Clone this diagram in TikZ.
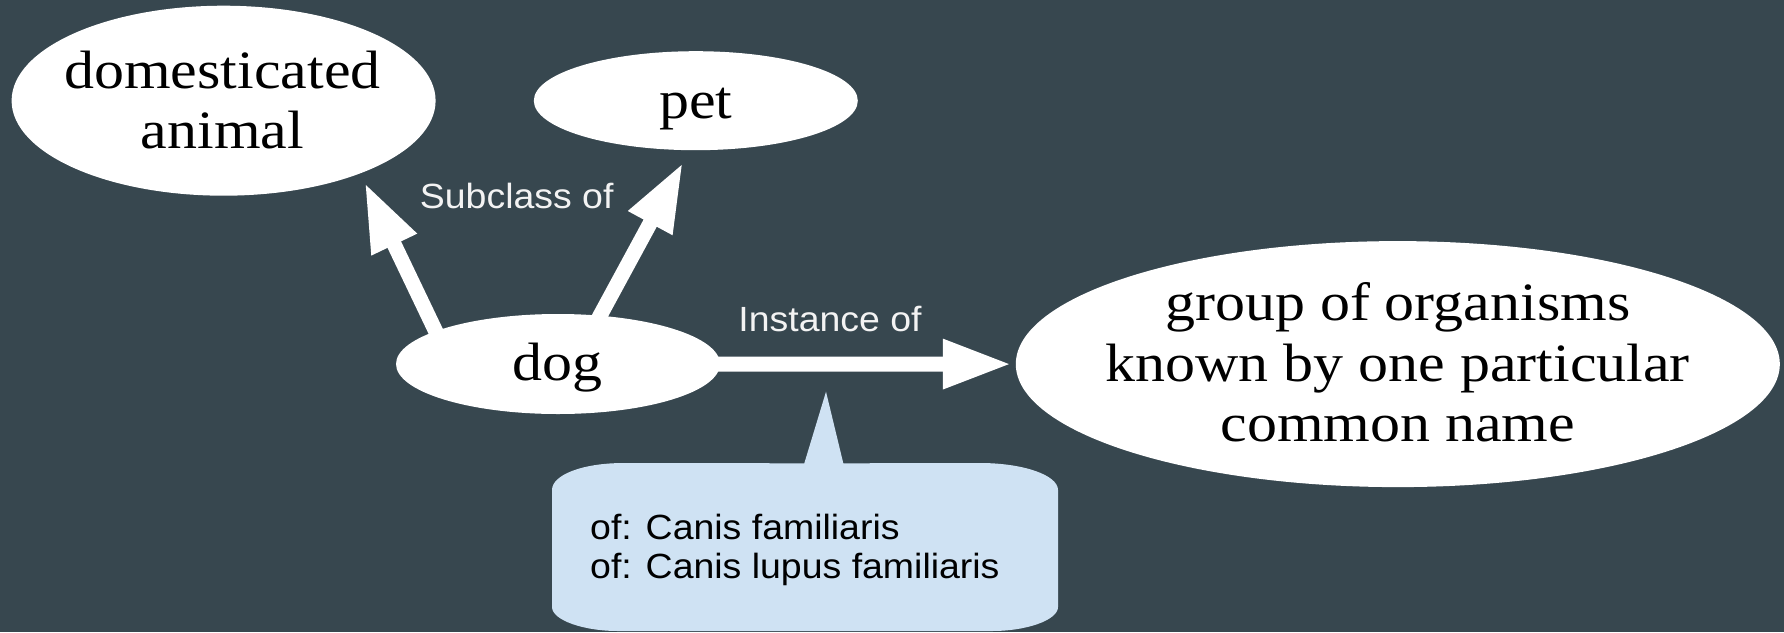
\documentclass[tikz,border=0pt]{standalone}
\usepackage{fontspec}
\setmainfont{Liberation Serif}[FakeStretch=1.11]
\newfontfamily\labelsans{Liberation Sans}[FakeStretch=1.07]
\usetikzlibrary{shapes.geometric,arrows.meta}
\definecolor{slate}{HTML}{37474F}
\definecolor{calloutblue}{HTML}{CFE2F3}
\definecolor{labelgrey}{HTML}{F3F3F3}
\pgfdeclarelayer{canvas}
\pgfdeclarelayer{links}
\pgfsetlayers{canvas,links,main}

\begin{document}
\begin{tikzpicture}[x=1pt,y=-1pt,
  concept/.style={ellipse, fill=white, inner sep=0pt, outer sep=0pt},
  term/.style={anchor=base, inner sep=0pt, text=black,
    font=\fontsize{54}{60}\selectfont},
  edgelabel/.style={anchor=base, inner sep=0pt, text=labelgrey,
    font=\labelsans\fontsize{35}{39}\selectfont},
  synonym/.style={anchor=base west, inner sep=0pt, text=black,
    font=\labelsans\fontsize{35}{39}\selectfont},
  relation/.style={line width=15pt, white,
    -{Triangle[length=69pt,width=46pt]}}]

% page and background
\useasboundingbox (0,0) rectangle (1784,632);
\begin{pgfonlayer}{canvas}
  \fill[slate] (0,0) rectangle (1784,632);
\end{pgfonlayer}

% concept ellipses
\node[concept, minimum width=424pt, minimum height=190pt] (dom) at (223.6,100.7) {};
\node[concept, minimum width=324pt, minimum height=99pt]  (pet) at (695.8,100.7) {};
\node[concept, minimum width=324pt, minimum height=100pt] (dog) at (558,364) {};
\node[concept, minimum width=764pt, minimum height=246pt] (grp) at (1397.8,364.1) {};

% concept names
\node[term] (domA) at (222.4,88) {domesticated};
\node[term] (domB) at (222.4,148) {animal};
\node[term] (petT) at (695.8,118.5) {pet};
\node[term] (dogT) at (557.6,380.5) {dog};
\node[term] (grpA) at (1397.8,320) {group of organisms};
\node[term] (grpB) at (1397.8,381.5) {known by one particular};
\node[term] (grpC) at (1397.8,441.5) {common name};

% relation labels
\node[edgelabel] (subcl) at (516.7,208.3) {Subclass of};
\node[edgelabel] (inst) at (830,331.7) {Instance of};

% relations, drawn behind the ellipses
\begin{pgfonlayer}{links}
  \draw[relation, shorten <=-10pt, shorten >=10pt] (dog.165.5) -- (dom.-28.7);
  \draw[relation, shorten <=-10pt, shorten >=14pt] (dog.49) -- (pet.-97.3);
  \draw[relation, shorten <=-10pt, shorten >=4pt] (dog.east) -- (grp.west);
\end{pgfonlayer}

% callout with the taxon names
\fill[calloutblue] (552,490) .. controls (552,475) and (582,463) .. (624,463)
  -- (804.3,463.3) -- (826,391.7) -- (843.3,463.3) -- (980,463)
  .. controls (1023,463) and (1058,475) .. (1058,490)
  -- (1058,607) .. controls (1058,620) and (1027,631) .. (992,631)
  -- (618,631) .. controls (583,631) and (552,620) .. (552,607) -- cycle;
\node[synonym] (syn1) at (590,539.3) {of: Canis familiaris};
\node[synonym] (syn2) at (590,578.3) {of: Canis lupus familiaris};
\end{tikzpicture}
\end{document}
